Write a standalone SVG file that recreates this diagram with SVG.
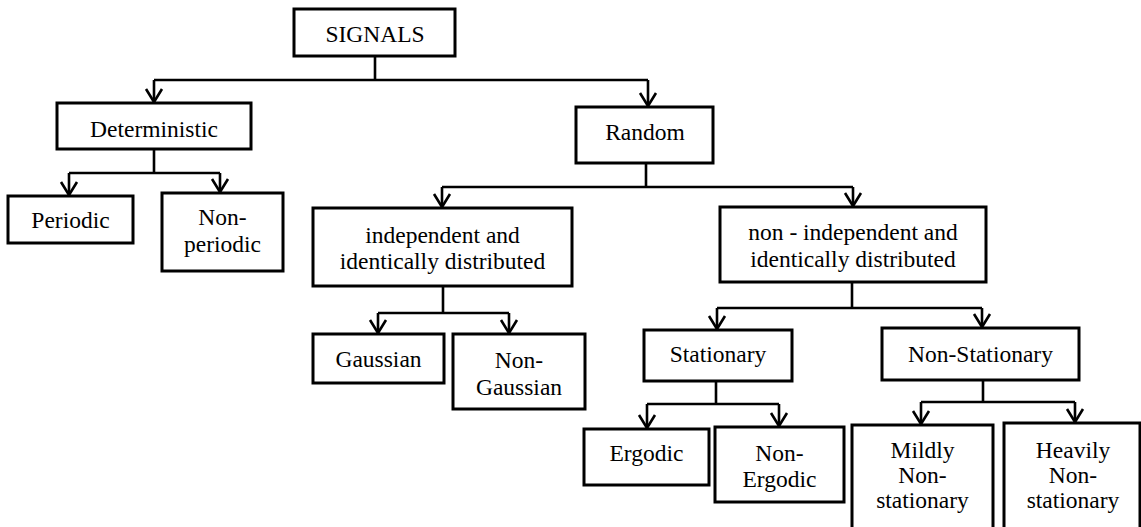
<svg xmlns="http://www.w3.org/2000/svg" width="1141" height="527" viewBox="0 0 1141 527">
<style>
.box{fill:#fff;stroke:#000;stroke-width:3}
.lbl{font-family:"Liberation Serif","Times New Roman",serif;font-size:23.5px;fill:#000;text-anchor:middle}
.conn{fill:none;stroke:#000;stroke-width:2.6}
</style>
<defs>
<marker id="arr" markerUnits="userSpaceOnUse" markerWidth="24" markerHeight="24" viewBox="-16 -12 20 24" refX="0" refY="0" orient="auto" overflow="visible">
<path d="M-13,-8 L0,0 L-13,8" fill="none" stroke="#000" stroke-width="2.6"/>
</marker>
</defs>
<rect width="1141" height="527" fill="#fff"/>
<g id="connectors">
<path class="conn" d="M375,56 V80 M154,80 H648"/>
<path class="conn" d="M154,80 V102" marker-end="url(#arr)"/>
<path class="conn" d="M648,80 V106" marker-end="url(#arr)"/>
<path class="conn" d="M154,149 V173 M69,173 H220"/>
<path class="conn" d="M69,173 V195" marker-end="url(#arr)"/>
<path class="conn" d="M220,173 V192" marker-end="url(#arr)"/>
<path class="conn" d="M646,163 V187 M442,187 H853"/>
<path class="conn" d="M442,187 V207" marker-end="url(#arr)"/>
<path class="conn" d="M853,187 V206" marker-end="url(#arr)"/>
<path class="conn" d="M443,286 V313 M378,313 H509"/>
<path class="conn" d="M378,313 V333" marker-end="url(#arr)"/>
<path class="conn" d="M509,313 V333" marker-end="url(#arr)"/>
<path class="conn" d="M852,282 V308 M717,308 H982"/>
<path class="conn" d="M717,308 V329" marker-end="url(#arr)"/>
<path class="conn" d="M982,308 V327" marker-end="url(#arr)"/>
<path class="conn" d="M716,381 V404 M647,404 H779"/>
<path class="conn" d="M647,404 V428" marker-end="url(#arr)"/>
<path class="conn" d="M779,404 V426" marker-end="url(#arr)"/>
<path class="conn" d="M983,380 V402 M921,402 H1075"/>
<path class="conn" d="M921,402 V424" marker-end="url(#arr)"/>
<path class="conn" d="M1075,402 V422" marker-end="url(#arr)"/>
</g>
<g id="signals"><rect class="box" x="294" y="9" width="161" height="47"/><text class="lbl" x="375" y="42">SIGNALS</text></g>
<g id="deterministic"><rect class="box" x="57" y="103" width="194" height="46"/><text class="lbl" x="154" y="137">Deterministic</text></g>
<g id="random"><rect class="box" x="576" y="107" width="137" height="56"/><text class="lbl" x="645" y="140">Random</text></g>
<g id="periodic"><rect class="box" x="8" y="196" width="125" height="47"/><text class="lbl" x="70.5" y="228">Periodic</text></g>
<g id="nonperiodic"><rect class="box" x="162" y="193" width="121" height="78"/><text class="lbl" x="222.5" y="225">Non-</text><text class="lbl" x="222.5" y="252">periodic</text></g>
<g id="iid"><rect class="box" x="313" y="208" width="259" height="78"/><text class="lbl" x="442.5" y="243">independent and</text><text class="lbl" x="442.5" y="269">identically distributed</text></g>
<g id="noniid"><rect class="box" x="720" y="207" width="266" height="75"/><text class="lbl" x="853" y="240">non - independent and</text><text class="lbl" x="853" y="267">identically distributed</text></g>
<g id="gaussian"><rect class="box" x="313" y="334" width="131" height="49"/><text class="lbl" x="378.5" y="367">Gaussian</text></g>
<g id="nongaussian"><rect class="box" x="453" y="334" width="132" height="75"/><text class="lbl" x="519" y="368">Non-</text><text class="lbl" x="519" y="395">Gaussian</text></g>
<g id="stationary"><rect class="box" x="644" y="330" width="148" height="51"/><text class="lbl" x="718" y="362">Stationary</text></g>
<g id="nonstationary"><rect class="box" x="882" y="328" width="197" height="52"/><text class="lbl" x="980.5" y="362">Non-Stationary</text></g>
<g id="ergodic"><rect class="box" x="584" y="429" width="125" height="56"/><text class="lbl" x="646.5" y="461">Ergodic</text></g>
<g id="nonergodic"><rect class="box" x="715" y="427" width="129" height="75"/><text class="lbl" x="779.5" y="461">Non-</text><text class="lbl" x="779.5" y="487">Ergodic</text></g>
<g id="mildly"><rect class="box" x="852" y="425" width="141" height="120"/><text class="lbl" x="922.5" y="458">Mildly</text><text class="lbl" x="922.5" y="483">Non-</text><text class="lbl" x="922.5" y="508">stationary</text></g>
<g id="heavily"><rect class="box" x="1004" y="423" width="136" height="120"/><text class="lbl" x="1073" y="458">Heavily</text><text class="lbl" x="1073" y="483">Non-</text><text class="lbl" x="1073" y="508">stationary</text></g>
</svg>
